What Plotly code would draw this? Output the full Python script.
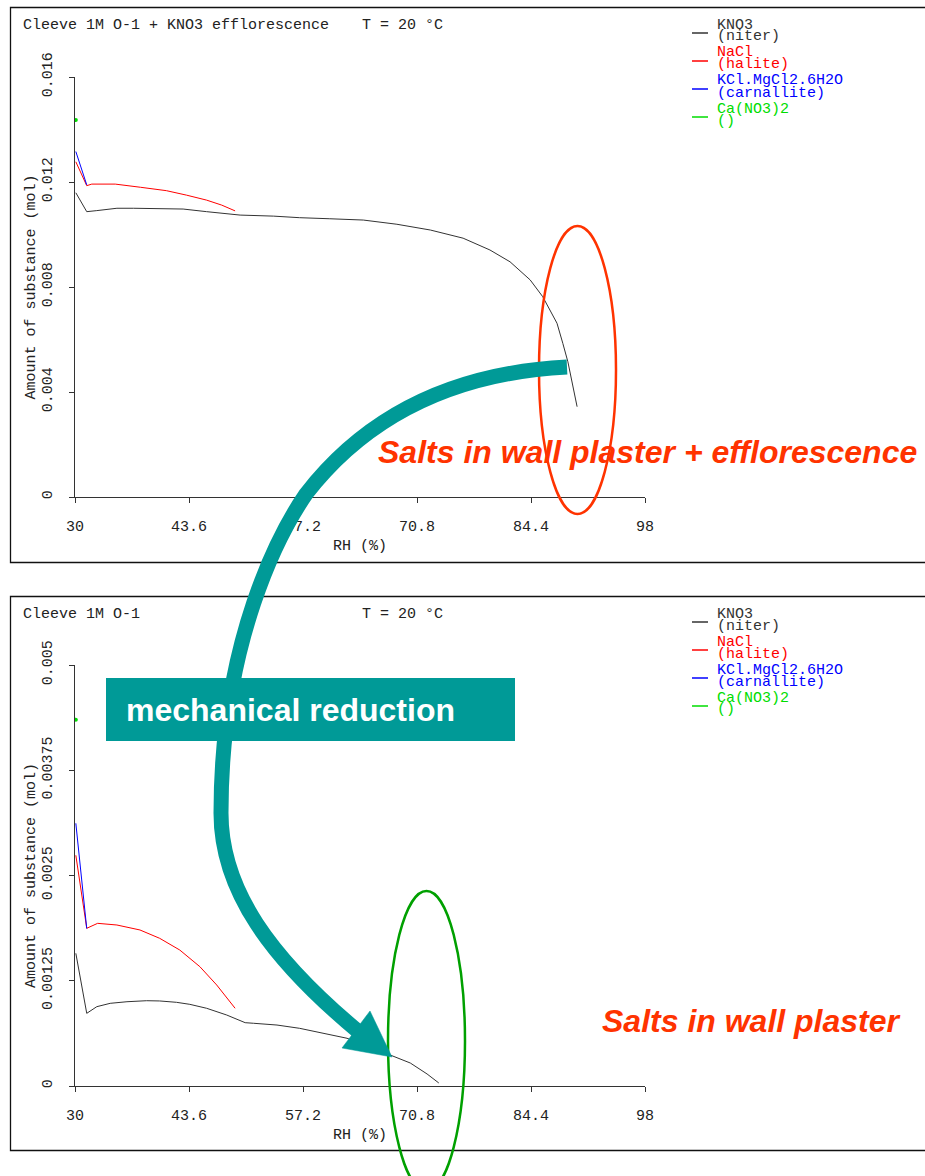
import plotly.graph_objects as go

# ---------------- data ----------------
rh_ticks = [30, 43.6, 57.2, 70.8, 84.4, 98]
rh_tick_text = ["30", "43.6", "57.2", "70.8", "84.4", "98"]

top_y_ticks = [0, 0.004, 0.008, 0.012, 0.016]
top_y_text = ["0", "0.004", "0.008", "0.012", "0.016"]
bot_y_ticks = [0, 0.00125, 0.0025, 0.00375, 0.005]
bot_y_text = ["0", "0.00125", "0.0025", "0.00375", "0.005"]

# top panel: Cleeve 1M O-1 + KNO3 efflorescence
top_kno3_rh = [30.1, 31.4, 32.6, 35.0, 37.0, 42.9, 45.7, 48.9, 49.7, 53.7, 56.8, 60.4,
               64.4, 68.4, 72.4, 76.3, 79.5, 81.9, 84.3, 85.8, 87.5, 88.2, 88.8, 89.9]
top_kno3 = [0.01159, 0.01087, 0.01091, 0.01100, 0.01100, 0.01097, 0.01087, 0.01078,
            0.01074, 0.01070, 0.01064, 0.01060, 0.01055, 0.01039, 0.01017, 0.00986,
            0.00941, 0.00896, 0.00827, 0.00763, 0.00662, 0.00585, 0.00515, 0.00344]
top_nacl_rh = [30.1, 31.4, 32.0, 34.8, 37.8, 40.9, 43.3, 45.7, 47.5, 49.1]
top_nacl = [0.01277, 0.01186, 0.01192, 0.01192, 0.01180, 0.01167, 0.01150, 0.01131,
            0.01112, 0.01090]
top_carn_rh = [30.1, 31.4]
top_carn = [0.01316, 0.01189]
top_cano3_rh = [30.1]
top_cano3 = [0.01436]

# bottom panel: Cleeve 1M O-1
bot_kno3_rh = [30.1, 31.4, 32.6, 34.2, 36.2, 38.55, 40.1, 42.1, 43.7, 45.7, 48.1, 50.3,
               51.3, 54.1, 56.8, 60.4, 62.45, 67.6, 70.0, 72.0, 73.4]
bot_kno3 = [0.001576, 0.000863, 0.000942, 0.000982, 0.001001, 0.001013, 0.001010,
            0.000994, 0.000970, 0.000923, 0.000843, 0.000752, 0.000745, 0.000724,
            0.000685, 0.000606, 0.000567, 0.000368, 0.000273, 0.000143, 0.000036]
bot_nacl_rh = [30.1, 31.4, 32.7, 35.0, 37.75, 40.1, 42.5, 44.9, 46.9, 49.1]
bot_nacl = [0.00274, 0.001873, 0.001932, 0.001912, 0.001853, 0.001754, 0.001615,
            0.001417, 0.001200, 0.000923]
bot_carn_rh = [30.1, 31.4]
bot_carn = [0.00312, 0.00187]
bot_cano3_rh = [30.1]
bot_cano3 = [0.00435]

series_names = [("KNO3", "(niter)"), ("NaCl", "(halite)"),
                ("KCl.MgCl2.6H2O", "(carnallite)"), ("Ca(NO3)2", "()")]
series_colors = ["#333333", "#ff0000", "#0000ff", "#00dd00"]

# ---------------- layout helpers ----------------
W, H = 925, 1176
TEAL = "#009a97"
ORANGE = "#ff3300"
MONO = "Liberation Mono, Courier New, monospace"
SANS = "Liberation Sans, Arial, sans-serif"


def X(x):
    return x / W


def Y(y):
    return 1 - y / H


def P(x, y):
    return f"{X(x):.5f},{Y(y):.5f}"


fig = go.Figure()

panels = [
    ("x", "y", [top_kno3_rh, top_nacl_rh, top_carn_rh, top_cano3_rh],
     [top_kno3, top_nacl, top_carn, top_cano3]),
    ("x2", "y2", [bot_kno3_rh, bot_nacl_rh, bot_carn_rh, bot_cano3_rh],
     [bot_kno3, bot_nacl, bot_carn, bot_cano3]),
]
for xa, ya, xs, ys in panels:
    for i in range(4):
        if i == 3:
            fig.add_trace(go.Scatter(x=xs[i], y=ys[i], mode="markers", xaxis=xa, yaxis=ya,
                                     marker=dict(color=series_colors[i], size=4),
                                     showlegend=False, hoverinfo="skip"))
        else:
            fig.add_trace(go.Scatter(x=xs[i], y=ys[i], mode="lines", xaxis=xa, yaxis=ya,
                                     line=dict(color=series_colors[i], width=1),
                                     showlegend=False, hoverinfo="skip"))

axis_common = dict(showline=True, linecolor="#333333", linewidth=1, ticks="outside",
                   ticklen=5, tickcolor="#333333", showgrid=False, zeroline=False,
                   tickfont=dict(family=MONO, size=15, color="#222222"),
                   automargin=False, fixedrange=True)

xaxis_common = dict(axis_common, range=[30, 98], tickvals=rh_ticks, ticktext=rh_tick_text,
                    domain=[X(75), X(645)], ticklabelstandoff=10,
                    title=dict(text="RH (%)", font=dict(family=MONO, size=15, color="#222222"),
                               standoff=4))

fig.update_layout(
    width=W, height=H, margin=dict(l=0, r=0, t=0, b=0),
    paper_bgcolor="white", plot_bgcolor="rgba(0,0,0,0)", showlegend=False,
    xaxis=dict(xaxis_common, anchor="y"),
    yaxis=dict(axis_common, anchor="x", range=[0, 0.016], tickvals=top_y_ticks,
               ticktext=top_y_text, tickangle=-90, ticklabelstandoff=11,
               domain=[Y(497), Y(77)],
               title=dict(text="Amount of substance (mol)",
                          font=dict(family=MONO, size=15, color="#222222"), standoff=0)),
    xaxis2=dict(xaxis_common, anchor="y2"),
    yaxis2=dict(axis_common, anchor="x2", range=[0, 0.005], tickvals=bot_y_ticks,
                ticktext=bot_y_text, tickangle=-90, ticklabelstandoff=11,
                domain=[Y(1086), Y(665)],
                title=dict(text="Amount of substance (mol)",
                           font=dict(family=MONO, size=15, color="#222222"), standoff=0)),
)

shapes = []
# panel frames
for (y0, y1) in [(7.5, 562.5), (596.5, 1150.5)]:
    shapes.append(dict(type="rect", xref="paper", yref="paper", x0=X(10.5), x1=X(940),
                       y0=Y(y1), y1=Y(y0), line=dict(color="#111111", width=1.3),
                       fillcolor="rgba(0,0,0,0)", layer="below"))

# legends
annotations = []
for base_line in [33, 622]:
    for i, (n1, n2) in enumerate(series_names):
        ly = base_line + 28 * i
        shapes.append(dict(type="line", xref="paper", yref="paper", x0=X(692), x1=X(708),
                           y0=Y(ly), y1=Y(ly), line=dict(color=series_colors[i], width=1.5)))
        ty = ly - 8
        annotations.append(dict(xref="paper", yref="paper", x=X(715), y=Y(ty), text=n1,
                                showarrow=False, xanchor="left", yanchor="middle",
                                font=dict(family=MONO, size=15, color=series_colors[i])))
        annotations.append(dict(xref="paper", yref="paper", x=X(715), y=Y(ty + 12), text=n2,
                                showarrow=False, xanchor="left", yanchor="middle",
                                font=dict(family=MONO, size=15, color=series_colors[i])))

# titles
for text, y in [("Cleeve 1M O-1 + KNO3 efflorescence", 26), ("Cleeve 1M O-1", 614)]:
    annotations.append(dict(xref="paper", yref="paper", x=X(21), y=Y(y), text=text,
                            showarrow=False, xanchor="left", yanchor="middle",
                            font=dict(family=MONO, size=15, color="#222222")))
    annotations.append(dict(xref="paper", yref="paper", x=X(360), y=Y(y), text="T = 20 °C",
                            showarrow=False, xanchor="left", yanchor="middle",
                            font=dict(family=MONO, size=15, color="#222222")))

# ellipses
shapes.append(dict(type="circle", xref="paper", yref="paper", x0=X(539), x1=X(616),
                   y0=Y(514), y1=Y(226), line=dict(color=ORANGE, width=2.5), layer="above"))
shapes.append(dict(type="circle", xref="paper", yref="paper", x0=X(388), x1=X(465),
                   y0=Y(1191), y1=Y(891), line=dict(color="#00a000", width=2.5), layer="above"))

# curved teal arrow
shaft = ("M" + P(567, 367) + " C" + P(470, 372) + " " + P(375, 405) + " " + P(306, 494)
         + " C" + P(280, 532) + " " + P(221, 640) + " " + P(221, 813)
         + " C" + P(221, 890) + " " + P(270, 958) + " " + P(360, 1033))
shapes.append(dict(type="path", xref="paper", yref="paper", path=shaft,
                   line=dict(color=TEAL, width=15), layer="above"))
head = "M" + P(342, 1048) + " L" + P(370, 1011) + " L" + P(392, 1057) + " Z"
shapes.append(dict(type="path", xref="paper", yref="paper", path=head, fillcolor=TEAL,
                   line=dict(color=TEAL, width=0.5), layer="above"))
shapes.append(dict(type="rect", xref="paper", yref="paper", x0=X(106), x1=X(515),
                   y0=Y(741), y1=Y(678), fillcolor=TEAL, line=dict(width=0), layer="above"))

annotations.append(dict(xref="paper", yref="paper", x=X(124), y=Y(710),
                        text="<b>mechanical reduction</b>", showarrow=False,
                        xanchor="left", yanchor="middle",
                        font=dict(family=SANS, size=32, color="white")))
annotations.append(dict(xref="paper", yref="paper", x=X(376), y=Y(452),
                        text="<b><i>Salts in wall plaster + efflorescence</i></b>",
                        showarrow=False, xanchor="left", yanchor="middle",
                        font=dict(family=SANS, size=32, color=ORANGE)))
annotations.append(dict(xref="paper", yref="paper", x=X(600), y=Y(1021),
                        text="<b><i>Salts in wall plaster</i></b>",
                        showarrow=False, xanchor="left", yanchor="middle",
                        font=dict(family=SANS, size=32, color=ORANGE)))

fig.update_layout(shapes=shapes, annotations=annotations)
fig.write_html("out.html")
